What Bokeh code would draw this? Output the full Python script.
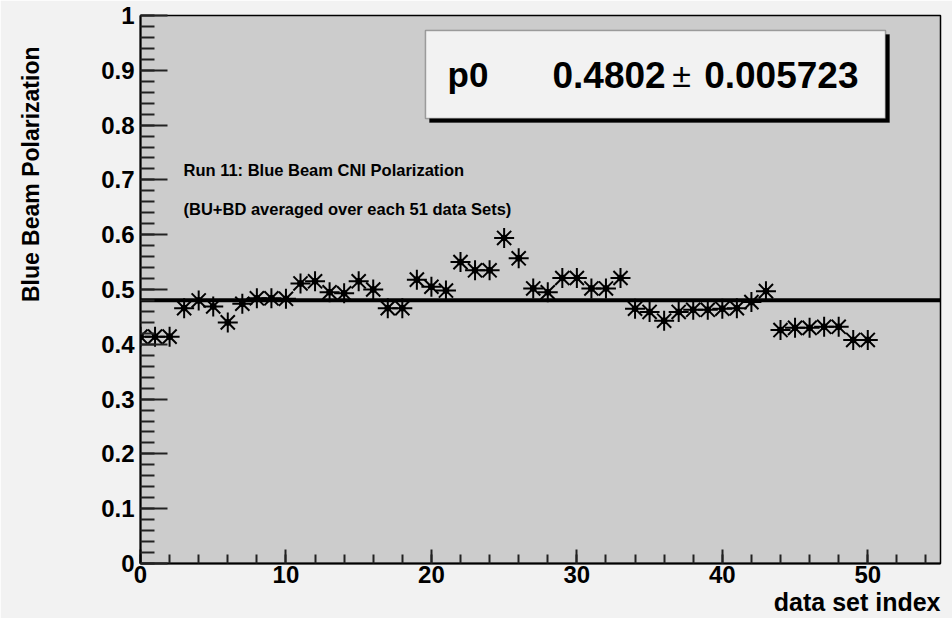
import numpy as np
from bokeh.plotting import figure
from bokeh.models import (Range1d, FixedTicker, CustomJSTickFormatter, Label, Title,
                          BoxAnnotation, ColumnDataSource)
from bokeh.embed import file_html
from bokeh.resources import INLINE

# ---- data ----
data_set_index = list(range(51))
blue_polarization = [0.414, 0.414, 0.414, 0.466, 0.480, 0.469, 0.440, 0.474, 0.484, 0.484,
                     0.483, 0.511, 0.515, 0.495, 0.493, 0.515, 0.500, 0.466, 0.466, 0.518,
                     0.505, 0.498, 0.550, 0.535, 0.535, 0.594, 0.557, 0.502, 0.495, 0.521,
                     0.521, 0.502, 0.502, 0.521, 0.465, 0.459, 0.443, 0.459, 0.463, 0.463,
                     0.465, 0.466, 0.477, 0.497, 0.426, 0.430, 0.430, 0.432, 0.432, 0.408,
                     0.408]
fit_p0 = 0.4802
fit_p0_err = 0.005723
fit_x = [0, 55]
y_ticks = [round(0.1 * i, 1) for i in range(11)]
y_minor = [round(0.02 * i, 2) for i in range(51)]
x_ticks = [0, 10, 20, 30, 40, 50]
x_minor = list(range(0, 56, 2))

FONT = "Liberation Sans"

# frame in screen pixels: left 140, right 940, top 15, bottom 563
X0, X1, Y0, Y1 = 0.0, 55.0, 0.0, 1.0
FL, FR, FT, FB = 140, 940, 15, 563


def dx(px):
    return X0 + (px - FL) * (X1 - X0) / (FR - FL)


def dy(py):
    return Y0 + (FB - py) * (Y1 - Y0) / (FB - FT)


p = figure(width=952, height=618, output_backend="svg", toolbar_location=None,
           x_range=Range1d(X0, X1), y_range=Range1d(Y0, Y1),
           min_border_left=FL, min_border_right=952 - FR,
           min_border_top=FT, min_border_bottom=618 - FB)
p.border_fill_color = "#f2f2f2"
p.background_fill_color = "#cccccc"
p.outline_line_color = "black"
p.outline_line_width = 1.5
p.xgrid.visible = False
p.ygrid.visible = False

# axes
p.yaxis.ticker = FixedTicker(ticks=y_ticks, minor_ticks=y_minor)
p.xaxis.ticker = FixedTicker(ticks=x_ticks, minor_ticks=x_minor)
p.yaxis.formatter = CustomJSTickFormatter(code="return tick.toFixed(1).replace(/\\.0$/, '')")
for ax in (p.xaxis, p.yaxis):
    ax.axis_line_color = "black"
    ax.axis_line_width = 2
    ax.major_tick_out = 0
    ax.minor_tick_out = 0
    ax.major_tick_line_color = "#222222"
    ax.minor_tick_line_color = "#222222"
    ax.major_tick_line_width = 2
    ax.minor_tick_line_width = 2
    ax.major_label_text_font = FONT
    ax.major_label_text_font_style = "bold"
    ax.major_label_text_font_size = "24px"
    ax.major_label_text_color = "black"
p.yaxis.major_tick_in = 27
p.yaxis.minor_tick_in = 14
p.xaxis.major_tick_in = 14
p.xaxis.minor_tick_in = 9
p.yaxis.major_label_standoff = 6
p.xaxis.major_label_standoff = 2

# axis titles (ROOT style: at the end of each axis)
p.add_layout(Title(text="data set index", align="right", text_font=FONT,
                   text_font_style="bold", text_font_size="25px", text_color="black",
                   standoff=0), "below")
# spacer between the y axis tick labels and the y title
p.add_layout(Title(text=" ", text_font=FONT, text_font_size="10px", standoff=42), "left")
p.add_layout(Title(text="Blue Beam Polarization", align="right", text_font=FONT,
                   text_font_style="bold", text_font_size="23px", text_color="black",
                   standoff=0, offset=31), "left")

# fit line
p.line(fit_x, [fit_p0, fit_p0], line_color="black", line_width=4)

# points
src = ColumnDataSource(dict(x=data_set_index, y=blue_polarization))
p.scatter("x", "y", source=src, marker="asterisk", size=20, line_color="black", line_width=2)
p.scatter("x", "y", source=src, marker="circle", size=6, line_color="black", fill_color="black")

# stats box (shadow + box)
p.add_layout(BoxAnnotation(left=dx(429), right=dx(889), top=dy(34), bottom=dy(122),
                           fill_color="black", fill_alpha=1, line_color="black", level="annotation"))
p.add_layout(BoxAnnotation(left=dx(425), right=dx(885), top=dy(30), bottom=dy(118),
                           fill_color="#f2f2f2", fill_alpha=1, line_color="black",
                           line_width=1.5, level="annotation"))


def lab(x, y, text, size, align="left", baseline="middle", angle=0.0, style="bold"):
    p.add_layout(Label(x=x, y=y, text=text, text_font=FONT, text_font_style=style,
                       text_font_size=size, text_align=align, text_baseline=baseline,
                       angle=angle, text_color="black"))


lab(dx(447), dy(74), "p0", "35px")
lab(dx(552), dy(74), f"{fit_p0:.4f}", "37px")
lab(dx(681), dy(74), "\u00b1", "34px", align="center", style="normal")
lab(dx(858), dy(74), f"{fit_p0_err:.6f}", "37px", align="right")

lab(dx(183), dy(169), "Run 11: Blue Beam CNI Polarization", "16.5px")
lab(dx(183), dy(208), "(BU+BD averaged over each 51 data Sets)", "16.5px")

open("out.html", "w").write(file_html(p, INLINE))
